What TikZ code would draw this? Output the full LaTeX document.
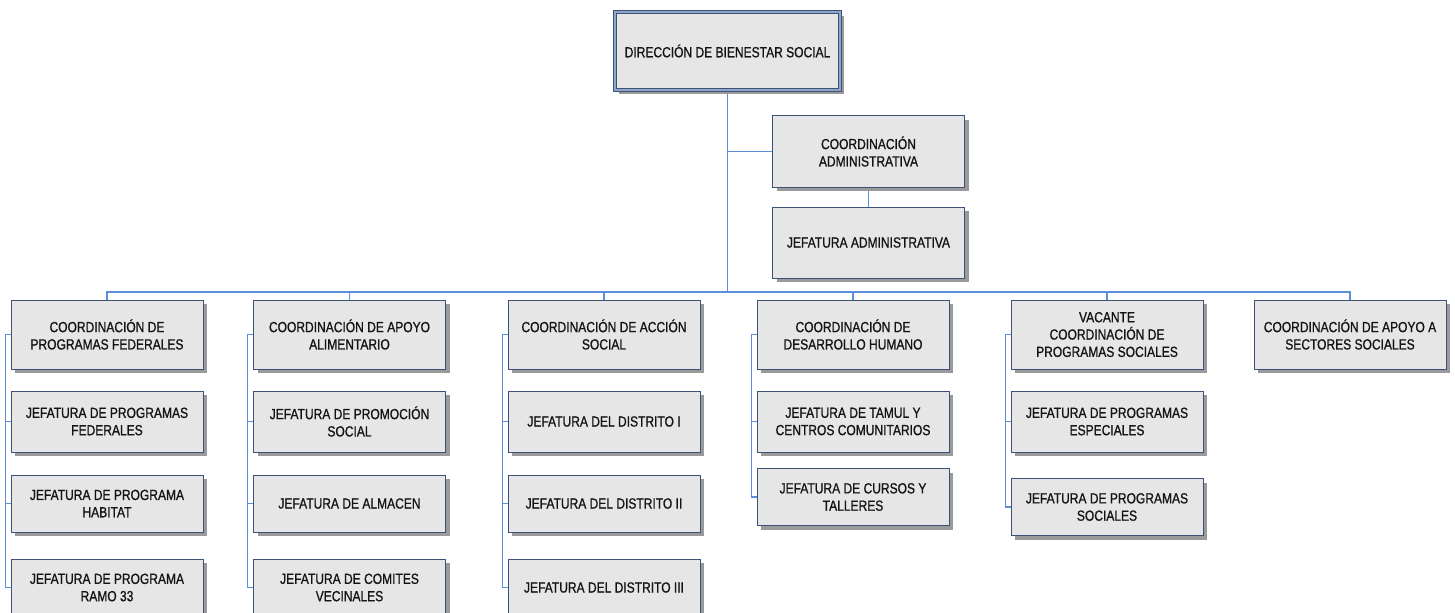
\documentclass[tikz,border=0pt]{standalone}
\usepackage{fontspec}
\setmainfont{Liberation Sans}[FakeStretch=0.82, RawFeature={embolden=0.9}]
\usepackage{tikz}
\usetikzlibrary{shadows,backgrounds}
\definecolor{boxfill}{HTML}{E6E6E6}
\definecolor{boxline}{HTML}{3E5277}
\definecolor{boxgap}{HTML}{8FA6C8}
\definecolor{wire}{HTML}{5B8EDB}
\definecolor{shade}{HTML}{9A9A9A}
\definecolor{ink}{HTML}{141414}
\tikzset{
  unit/.style={draw=boxline, fill=boxfill, line width=0.75pt, align=center, text=ink,
    font=\fontsize{11}{13}\selectfont, minimum width=144pt, inner sep=2pt,
    drop shadow={shadow xshift=3.2pt, shadow yshift=-3.2pt, fill=shade, opacity=1}},
  head/.style={unit, double=boxgap, double distance=1.2pt, line width=0.8pt},
  r1/.style={unit, minimum height=51.75pt},
  r2/.style={unit, minimum height=45.75pt},
  r3/.style={unit, minimum height=42.75pt},
  adm/.style={unit, minimum height=53.25pt},
  conn/.style={draw=wire, line width=0.9pt},
}

\begin{document}
\begin{tikzpicture}[x=0.75pt, y=-0.75pt]
  \useasboundingbox (0,0) rectangle (1455,613);
  \coordinate (bus) at (0,292);

  \node[head, minimum width=168.75pt, minimum height=58.5pt] (dir) at (727.5,51) {DIRECCIÓN DE BIENESTAR SOCIAL};
  \node[adm] (cadm) at (868.5,151.5) {COORDINACIÓN\\ADMINISTRATIVA};
  \node[adm] (jadm) at (868.5,242.5) {JEFATURA ADMINISTRATIVA};

  \node[r1] (c1) at (107,334.5) {COORDINACIÓN DE\\PROGRAMAS FEDERALES};
  \node[r2] (j12) at (107,421.5) {JEFATURA DE PROGRAMAS\\FEDERALES};
  \node[r3] (j13) at (107,503.5) {JEFATURA DE PROGRAMA\\HABITAT};
  \node[r3] (j14) at (107,587.5) {JEFATURA DE PROGRAMA\\RAMO 33};

  \node[r1] (c2) at (349.5,334.5) {COORDINACIÓN DE APOYO\\ALIMENTARIO};
  \node[r2] (j22) at (349.5,421.5) {JEFATURA DE PROMOCIÓN\\SOCIAL};
  \node[r3] (j23) at (349.5,503.5) {JEFATURA DE ALMACEN};
  \node[r3] (j24) at (349.5,587.5) {JEFATURA DE COMITES\\VECINALES};

  \node[r1] (c3) at (604,334.5) {COORDINACIÓN DE ACCIÓN\\SOCIAL};
  \node[r2] (j32) at (604,421.5) {JEFATURA DEL DISTRITO I};
  \node[r3] (j33) at (604,503.5) {JEFATURA DEL DISTRITO II};
  \node[r3] (j34) at (604,587.5) {JEFATURA DEL DISTRITO III};

  \node[r1] (c4) at (853,334.5) {COORDINACIÓN DE\\DESARROLLO HUMANO};
  \node[r2] (j42) at (853,421.5) {JEFATURA DE TAMUL Y\\CENTROS COMUNITARIOS};
  \node[r3] (j43) at (853,497) {JEFATURA DE CURSOS Y\\TALLERES};

  \node[r1] (c5) at (1107,334.5) {VACANTE\\COORDINACIÓN DE\\PROGRAMAS SOCIALES};
  \node[r2] (j52) at (1107,421.5) {JEFATURA DE PROGRAMAS\\ESPECIALES};
  \node[r3] (j53) at (1107,507) {JEFATURA DE PROGRAMAS\\SOCIALES};

  \node[r1] (c6) at (1350,334.5) {COORDINACIÓN DE APOYO A\\SECTORES SOCIALES};

  \begin{scope}[on background layer]
    \draw[conn] (dir.south) -- (dir.south |- bus);
    \draw[conn] (cadm.west) -- (cadm.west -| dir.south);
    \draw[conn] (cadm.south) -- (jadm.north);
    \draw[conn] (c1.north) |- (c6.north |- bus) -- (c6.north);
    \foreach \n in {c2,c3,c4,c5}
      \draw[conn] (\n.north) -- (\n.north |- bus);
    \foreach \c/\last in {c1/j14,c2/j24,c3/j34,c4/j43,c5/j53}
      \draw[conn] (\c.west) -- ++(-4pt,0) |- (\last.west);
    \foreach \n in {j12,j13,j22,j23,j32,j33,j42,j52}
      \draw[conn] (\n.west) -- ++(-4pt,0);
  \end{scope}
\end{tikzpicture}
\end{document}
